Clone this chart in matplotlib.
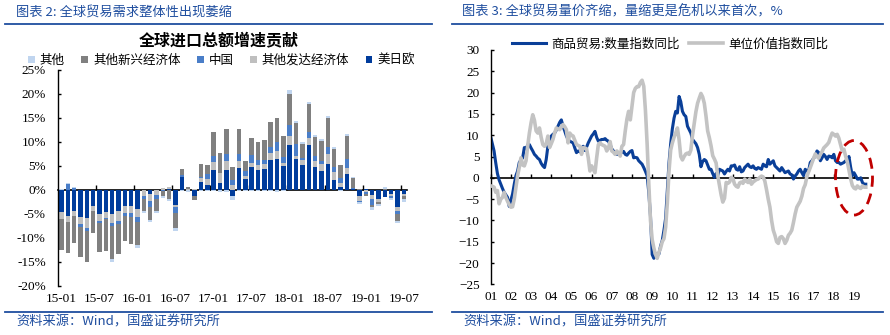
import numpy as np
import matplotlib
matplotlib.use('Agg')
import matplotlib.pyplot as plt
from matplotlib.patches import Patch, Ellipse
from matplotlib.lines import Line2D

plt.rcParams['font.family'] = ['Noto Sans CJK SC', 'DejaVu Sans']

# ---- left chart: contribution to global import growth (%), 15-01 .. 19-07
months = [f'{y:02d}-{m:02d}' for y in range(15, 20) for m in range(1, 13)][:55]
us_jp_eu = [-4.6, -5.4, -4.4, -5.6, -5.8, -3.3, -5.0, -4.6, -4.9, -4.4, -3.3, -3.3,
            -3.9, 0.0, -0.9, 0.0, 0.0, 0.3, -3.1, 2.7, 0.0, -1.25, 1.65, 1.05,
            4.2, 1.45, 4.2, -1.25, 4.6, 2.3, 4.8, 4.2, 4.4, 6.25, 6.45, 5.0,
            9.4, 6.45, 5.3, 9.45, 4.85, 4.0, 5.5, 2.15, 0.7, 3.4, 0.3, -1.3,
            0.3, -1.1, -1.9, -1.4, -0.9, -3.5, -0.75]
other_dev = [-1.4, -1.2, -1.0, -1.5, -2.1, -1.0, -1.4, -1.2, -1.9, -2.0, -1.5, -1.5,
             -1.7, -1.25, -1.4, -1.0, 0.4, 0.3, -0.5, 0.0, 0.2, 0.3, 0.85, 1.2,
             1.65, 2.1, 1.9, 1.0, 1.45, 0.6, 0.85, 1.05, 1.05, 1.45, 1.65, 0.6,
             1.9, 0.6, 0.85, 1.45, 1.25, 1.45, 2.1, 1.65, 0.85, 1.25, 0.0, -0.9,
             -0.5, -0.8, -0.5, 0.0, -0.3, -0.85, -0.6]
china = [0.0, 1.2, 0.4, -0.7, -0.6, 0.0, -0.5, -0.3, -0.8, -0.6, -0.6, -0.8,
         -1.0, -0.6, -1.2, -0.9, -0.3, 0.0, -1.2, 0.4, 0.0, 0.0, 0.2, 1.05,
         1.25, 0.0, 1.4, 1.05, 1.4, 1.05, 1.65, 1.0, 0.85, 1.3, 1.9, 1.25,
         2.3, 2.5, 0.6, 1.25, 1.05, 0.6, 1.45, 1.05, 0.85, 1.9, 0.2, -0.4,
         -0.3, -1.2, 0.0, 0.0, -0.5, -0.7, 0.0]
other_em = [-6.6, -6.5, -5.6, -6.1, -6.6, -4.6, -6.0, -6.6, -6.8, -6.3, -5.3, -5.7,
            -4.9, -2.5, -2.8, -2.4, -1.0, -1.8, -3.1, 1.2, 0.4, -0.85, 2.7, 1.95,
            5.0, 4.2, 5.3, 2.7, 5.3, 2.1, 3.55, 3.8, 4.2, 5.15, 5.0, 4.4,
            6.45, 4.4, 2.9, 5.85, 3.95, 4.15, 5.85, 3.75, 2.9, 4.8, 1.9, 0.3,
            -0.4, -0.5, -0.6, 0.3, 0.0, -1.4, -0.55]
others = [0.2, 0.35, 0.3, 0.1, 0.1, 0.1, 0.1, 0.1, -0.5, 0.1, 0.1, 0.1,
          -0.5, -0.35, -0.4, -0.4, -0.35, -0.4, -0.55, -0.2, -0.5, 0.0, -0.2, -0.2,
          -0.3, -0.5, -0.4, -0.8, -0.3, -0.3, -0.3, -0.3, -0.3, -0.3, -0.4, -0.3,
          0.85, 0.4, 0.4, 0.4, 0.4, 0.4, 0.6, 0.4, -0.3, 0.4, 0.3, -0.3,
          -0.1, -0.5, -0.4, 0.35, -0.4, -0.4, -0.5]

# ---- right chart: monthly yoy %, 2001-01 .. 2019-08
qty_yoy = [9.6, 8.0, 6.3, 3.5, 1.0, -0.5, -1.5, -2.5, -3.4, -4.0, -4.6, -6.7,
           -5.2, -3.8, -1.5, 0.5, 1.6, 3.6, 4.2, 4.7, 7.1, 6.8, 7.7, 7.8,
           7.0, 6.3, 5.5, 5.1, 4.6, 4.3, 3.4, 2.8, 2.4, 4.3, 7.4, 9.0,
           9.8, 10.2, 10.5, 11.2, 12.1, 13.0, 13.6, 12.1, 11.0, 9.8, 9.0, 8.6,
           8.4, 8.2, 7.0, 5.9, 6.3, 6.1, 7.0, 7.4, 6.4, 7.2, 8.2, 9.0,
           9.8, 10.3, 10.9, 9.5, 8.6, 8.8, 9.0, 9.0, 9.2, 8.8, 8.6, 7.8,
           6.8, 6.3, 5.9, 5.5, 5.6, 5.7, 6.0, 6.2, 5.5, 5.3, 5.8, 6.2,
           6.4, 4.7, 4.8, 4.7, 4.0, 3.6, 3.2, 2.4, 1.5, 0.5, -3.5, -9.0,
           -18.0, -18.9, -18.2, -17.8, -17.9, -16.0, -14.7, -12.3, -9.5, -3.0, 3.5, 8.0,
           11.5, 14.0, 15.6, 15.2, 19.1, 17.9, 15.6, 14.8, 14.4, 12.1, 11.3, 10.5,
           9.0, 8.5, 8.0, 7.1, 5.5, 2.6, 3.8, 4.3, 4.0, 3.0, 2.0, 2.0,
           1.0, 0.1, 1.0, 0.6, 2.0, 1.8, 1.6, 0.9, 1.5, 2.0, 1.6, 2.8,
           2.8, 3.0, 2.0, 1.8, 2.6, 1.4, 1.6, 2.4, 2.8, 3.2, 2.6, 2.4,
           2.8, 2.2, 2.0, 2.4, 2.2, 2.0, 3.2, 2.8, 2.6, 4.3, 3.2, 3.6,
           4.0, 2.8, 2.4, 2.0, 1.6, 2.4, 1.8, 1.2, 1.4, 1.6, 0.9, 0.7,
           -0.3, 0.4, 0.9, 1.6, 2.0, 1.2, 0.5, 2.0, 1.6, 1.6, 3.6, 4.0,
           4.6, 5.1, 6.3, 5.9, 4.0, 4.7, 5.5, 5.0, 4.3, 5.1, 5.0, 4.7,
           5.5, 4.0, 3.6, 3.6, 3.2, 3.4, 3.6, 4.0, 3.8, 5.0, 2.5, 0.5,
           1.2, 0.5, -0.3, -0.3, 0.0, -1.1, -1.5, -1.5]
unit_yoy = [-1.9, -2.0, -2.2, -3.4, -3.0, -6.1, -5.0, -4.6, -3.4, -4.6, -5.5, -6.3,
            -6.9, -6.8, -5.0, -2.2, 0.5, 2.5, 4.7, 3.0, 2.8, 4.0, 7.5, 10.5,
            12.9, 14.8, 13.5, 11.0, 10.5, 11.7, 9.5, 7.8, 7.4, 8.0, 9.8, 7.1,
            8.0, 9.0, 10.5, 11.7, 11.5, 11.3, 12.0, 12.5, 12.0, 11.3, 8.2, 10.5,
            10.0, 9.8, 8.8, 7.8, 7.6, 7.4, 5.5, 7.1, 7.0, 6.8, 4.7, 1.6,
            2.8, 2.0, 1.2, 4.7, 7.8, 8.2, 7.8, 7.6, 7.4, 6.3, 7.0, 8.5,
            6.3, 6.0, 5.5, 6.3, 5.8, 5.1, 7.4, 7.8, 11.0, 13.8, 15.6, 13.6,
            16.8, 20.0, 21.0, 21.4, 21.4, 22.4, 22.9, 21.5, 15.8, 8.0, -1.5, -10.0,
            -14.5, -16.5, -18.0, -18.9, -17.5, -16.5, -15.0, -14.3, -11.6, -6.0, 1.5, 6.5,
            8.2, 9.5, 10.5, 11.7, 9.0, 5.0, 4.2, 5.0, 5.6, 5.8, 5.5, 6.5,
            10.0, 12.8, 15.5, 17.5, 18.7, 19.8, 19.0, 17.5, 14.5, 11.0, 9.4, 7.5,
            5.2, 4.4, 3.5, 0.5, -1.8, -4.0, -5.7, -4.8, -1.1, -1.3, -1.0, 0.1,
            -0.2, -1.5, -2.0, -2.2, -1.2, -1.0, -1.3, -0.3, -0.8, -1.1, -0.3, -1.5,
            -1.0, -0.7, -0.4, -0.3, 0.1, 0.4, 0.2, -0.8, -2.8, -5.0, -6.9, -10.0,
            -12.3, -13.5, -15.0, -15.4, -14.0, -13.8, -14.3, -15.4, -14.7, -13.5, -13.0, -12.3,
            -10.5, -8.5, -6.9, -6.2, -5.5, -4.3, -2.5, -1.6, 0.3, 1.4, 2.4, 3.5,
            4.6, 5.6, 5.0, 4.6, 5.5, 6.1, 7.0, 7.4, 7.8, 8.3, 9.5, 10.5,
            10.2, 9.8, 10.2, 9.3, 7.8, 6.3, 6.7, 5.1, 3.8, 1.8, -0.2, -1.8,
            -2.4, -2.6, -1.9, -2.3, -2.5, -1.9, -2.2, -2.2]
years = [f'{y:02d}' for y in range(1, 20)]

BLUE_T = '#1F4E9F'
SERIF = 'Liberation Serif'
W, H = 890, 335


def box(l, t, r, b):
    return [l / W, 1 - b / H, (r - l) / W, (b - t) / H]


fig = plt.figure(figsize=(W / 100, H / 100), dpi=100)

# header / footer
for x0, x1 in [(5, 432), (452, 883)]:
    fig.add_artist(Line2D([x0 / W, x1 / W], [1 - 24 / H] * 2, color=BLUE_T, lw=1.3))
    fig.add_artist(Line2D([x0 / W, x1 / W], [1 - 311.5 / H] * 2, color=BLUE_T, lw=1.3))
fig.text(16 / W, 1 - 12 / H, '图表 2: 全球贸易需求整体性出现萎缩', color=BLUE_T,
         fontsize=9.5, va='center', style='italic')
fig.text(462 / W, 1 - 12 / H, '图表 3: 全球贸易量价齐缩，量缩更是危机以来首次，%',
         color=BLUE_T, fontsize=9.5, va='center', style='italic')
fig.text(16 / W, 1 - 322 / H, '资料来源：Wind，国盛证券研究所', color=BLUE_T,
         fontsize=9.5, va='center', style='italic')
fig.text(16 / W + 447 / W, 1 - 322 / H, '资料来源：Wind，国盛证券研究所', color=BLUE_T,
         fontsize=9.5, va='center', style='italic')

# ---------------- left: stacked bars
ax1 = fig.add_axes(box(58.3, 70, 407, 286))
x = np.arange(len(months))
stack = [('美日欧', us_jp_eu, '#003C9C'),
         ('其他发达经济体', other_dev, '#BFBFBF'),
         ('中国', china, '#4A7EC8'),
         ('其他新兴经济体', other_em, '#808080'),
         ('其他', others, '#C0D5EF')]
pos = np.zeros(len(x))
neg = np.zeros(len(x))
handles = []
for name, vals, col in stack:
    v = np.array(vals)
    ax1.bar(x, v, 0.7, bottom=np.where(v >= 0, pos, neg), color=col, zorder=2)
    pos += np.clip(v, 0, None)
    neg += np.clip(v, None, 0)
    handles.append(Patch(facecolor=col, label=name))
handles = handles[::-1]

ax1.set_xlim(-0.5, len(months) - 0.5)
ax1.set_ylim(-20, 25)
ax1.set_yticks(range(-20, 26, 5))
ax1.set_yticklabels([f'{t}%' for t in range(-20, 26, 5)])
ax1.set_xticks(x[::6])
ax1.set_xticklabels(months[::6])
for s in ['top', 'right', 'bottom']:
    ax1.spines[s].set_visible(False)
ax1.spines['left'].set_linewidth(1.0)
ax1.tick_params(axis='y', direction='in', length=2.5, width=1, pad=9)
ax1.tick_params(axis='x', length=0, pad=5)
for lab in ax1.get_xticklabels() + ax1.get_yticklabels():
    lab.set_fontfamily(SERIF)
    lab.set_fontsize(9.5)
sec1 = ax1.secondary_xaxis(20 / 45)
sec1.set_xticks(np.arange(5.5, len(months), 6))
sec1.tick_params(direction='in', length=3.5, width=1, labelbottom=False)
sec1.spines['bottom'].set_linewidth(1.2)

fig.text(219 / W, 1 - 40 / H, '全球进口总额增速贡献', ha='center', va='center',
         fontsize=11.5, fontweight='bold')
ax1.legend(handles=handles, loc='center', bbox_to_anchor=(221.5 / W, 1 - 60.5 / H),
           bbox_transform=fig.transFigure, ncol=5, frameon=False, fontsize=9,
           handlelength=0.55, handleheight=0.55, handletextpad=0.4, columnspacing=1.3,
           borderaxespad=0, borderpad=0)

# ---------------- right: lines
ax2 = fig.add_axes(box(490.7, 50, 868.3, 284.3))
t = np.arange(len(qty_yoy))
ax2.plot(t, qty_yoy, color='#0A3F98', lw=2.2, zorder=2, label='商品贸易:数量指数同比')
ax2.plot(t, unit_yoy, color='#C3C3C3', lw=2.6, zorder=3, label='单位价值指数同比')
ax2.set_xlim(0, 224.5)
ax2.set_ylim(-25, 30)
ax2.set_yticks(range(-25, 31, 5))
ax2.set_xticks(np.arange(0, 12 * len(years), 12))
ax2.set_xticklabels(years)
for s in ['top', 'right', 'bottom']:
    ax2.spines[s].set_visible(False)
ax2.spines['left'].set_linewidth(1.0)
ax2.tick_params(axis='y', direction='in', length=2.5, width=1, pad=8)
ax2.tick_params(axis='x', length=0, pad=5)
for lab in ax2.get_xticklabels() + ax2.get_yticklabels():
    lab.set_fontfamily(SERIF)
    lab.set_fontsize(9.5)
sec2 = ax2.secondary_xaxis(25 / 55)
sec2.set_xticks(np.arange(0, 12 * len(years), 12))
sec2.tick_params(direction='in', length=2.7, width=1, labelbottom=False)
sec2.spines['bottom'].set_linewidth(1.2)

ax2.add_patch(Ellipse((216, 0), 22, 17.5, fill=False, edgecolor='#C00000', lw=2,
                      linestyle=(0, (4, 2.5)), clip_on=False, zorder=4))
ax2.legend(loc='center', bbox_to_anchor=(670 / W, 1 - 44.3 / H),
           bbox_transform=fig.transFigure, ncol=2, frameon=False, fontsize=9,
           handlelength=2.7, handletextpad=0.4, columnspacing=0.8,
           borderaxespad=0, borderpad=0)

fig.savefig('out.png', dpi=100)
